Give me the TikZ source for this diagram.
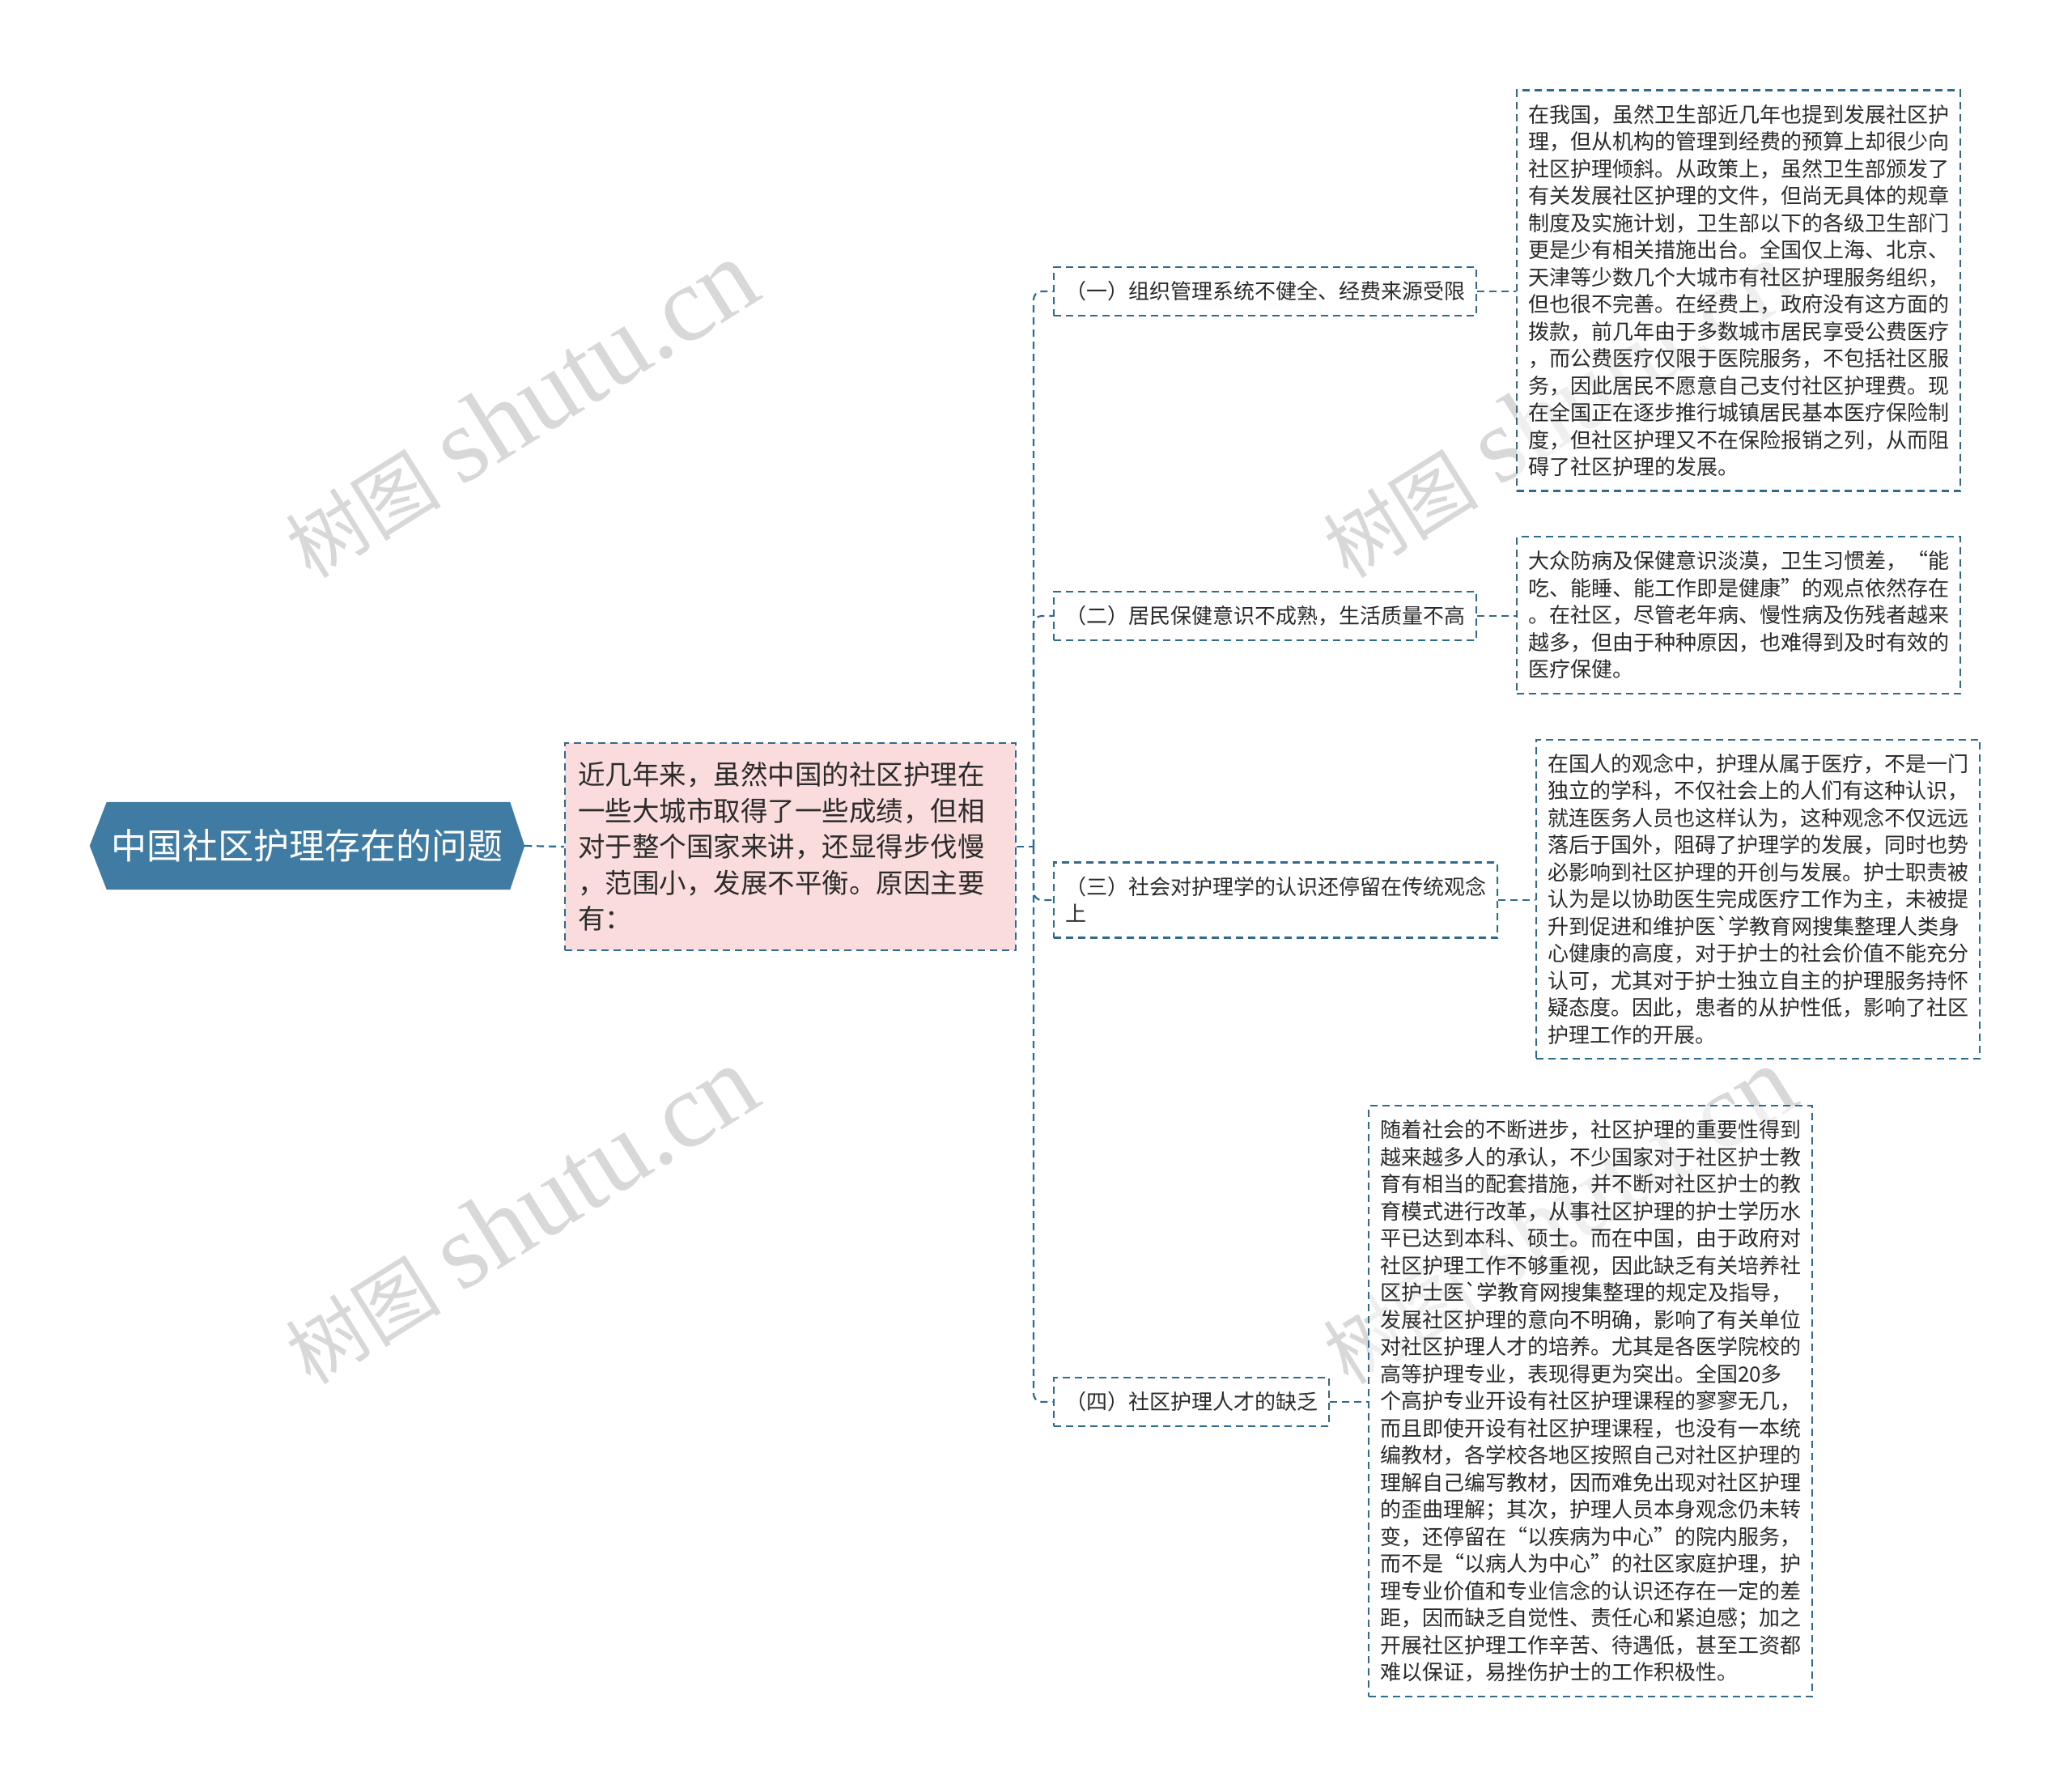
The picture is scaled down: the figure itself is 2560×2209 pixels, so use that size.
\documentclass[tikz,border=0pt]{standalone}
\usepackage{fontspec}
\setmainfont{Noto Sans CJK SC}[Ligatures=TeXOff]
\newfontfamily\wmserif{Liberation Serif}
\newfontfamily\wmcjk{Noto Sans CJK SC}
\usetikzlibrary{backgrounds}
\definecolor{rootc}{HTML}{3F7BA2}
\definecolor{pinkc}{HTML}{FBDCDC}
\definecolor{bordc}{HTML}{2F6A8F}
\definecolor{txtc}{HTML}{2B2B2B}
\definecolor{wmc}{HTML}{D8D8D8}
\newcommand\mystr{\rule[\dimexpr0.38em-0.5\baselineskip\relax]{0pt}{\baselineskip}}
\newcommand\wmtext{{\wmcjk\fontsize{96}{106}\selectfont 树图}\hspace{26pt}{\wmserif\fontsize{132}{142}\selectfont shutu.cn}}
\tikzset{
  box/.style={draw=bordc, dash pattern=on 9pt off 6pt, line width=2.2pt, fill=white,
    text=txtc, align=left, inner xsep=14pt, inner ysep=13pt,
    font=\fontsize{26}{33.5}\selectfont, anchor=west},
  leaf/.style={box, text width=520pt, fill opacity=0.6, text opacity=1},
  conn/.style={draw=bordc, dash pattern=on 9pt off 6pt, line width=2.2pt},
  wm/.style={text=wmc, rotate=32, inner sep=0pt},
}
\begin{document}
\begin{tikzpicture}[x=1pt,y=-1pt]
\useasboundingbox (0,0) rectangle (2560,2209);
% watermarks
\node[wm] (wm1) at (643,506) {\wmtext};
\node[wm] (wm2) at (643,1502) {\wmtext};
\node[wm] (wm3) at (1925,506) {\wmtext};
\node[wm] (wm4) at (1925,1502) {\wmtext};
% root
\node[text=white, font=\fontsize{44}{50}\selectfont, minimum width=537pt, minimum height=108pt, inner sep=0pt] (root) at (379.5,1045) {中国社区护理存在的问题};
\begin{pgfonlayer}{background}
\fill[white] (0,0) rectangle (2560,2209);
\fill[rootc] (root.west) -- ([xshift=21pt]root.north west) -- ([xshift=-18pt]root.north east) -- (root.east) -- ([xshift=-18pt]root.south east) -- ([xshift=21pt]root.south west) -- cycle;
\end{pgfonlayer}
% intro
\node[box, fill=pinkc, text width=525pt, inner xsep=16pt, inner ysep=16.5pt, font=\fontsize{33.5}{44.6}\selectfont] (intro) at (697,1046) {%
\mystr 近几年来，虽然中国的社区护理在\\
\mystr 一些大城市取得了一些成绩，但相\\
\mystr 对于整个国家来讲，还显得步伐慢\\
\mystr ，范围小，发展不平衡。原因主要\\
\mystr 有：};
% branches
\node[box] (b1) at (1301,360) {\mystr （一）组织管理系统不健全、经费来源受限};
\node[box] (b2) at (1301,761) {\mystr （二）居民保健意识不成熟，生活质量不高};
\node[box] (b3) at (1301,1112) {\mystr （三）社会对护理学的认识还停留在传统观念\\\mystr 上};
\node[box] (b4) at (1301,1732) {\mystr （四）社区护理人才的缺乏};
% leaves
\node[leaf] (l1) at (1873,359) {%
\mystr 在我国，虽然卫生部近几年也提到发展社区护\\
\mystr 理，但从机构的管理到经费的预算上却很少向\\
\mystr 社区护理倾斜。从政策上，虽然卫生部颁发了\\
\mystr 有关发展社区护理的文件，但尚无具体的规章\\
\mystr 制度及实施计划，卫生部以下的各级卫生部门\\
\mystr 更是少有相关措施出台。全国仅上海、北京、\\
\mystr 天津等少数几个大城市有社区护理服务组织，\\
\mystr 但也很不完善。在经费上，政府没有这方面的\\
\mystr 拨款，前几年由于多数城市居民享受公费医疗\\
\mystr ，而公费医疗仅限于医院服务，不包括社区服\\
\mystr 务，因此居民不愿意自己支付社区护理费。现\\
\mystr 在全国正在逐步推行城镇居民基本医疗保险制\\
\mystr 度，但社区护理又不在保险报销之列，从而阻\\
\mystr 碍了社区护理的发展。};
\node[leaf] (l2) at (1873,760) {%
\mystr 大众防病及保健意识淡漠，卫生习惯差，“能\\
\mystr 吃、能睡、能工作即是健康”的观点依然存在\\
\mystr 。在社区，尽管老年病、慢性病及伤残者越来\\
\mystr 越多，但由于种种原因，也难得到及时有效的\\
\mystr 医疗保健。};
\node[leaf] (l3) at (1897,1111) {%
\mystr 在国人的观念中，护理从属于医疗，不是一门\\
\mystr 独立的学科，不仅社会上的人们有这种认识，\\
\mystr 就连医务人员也这样认为，这种观念不仅远远\\
\mystr 落后于国外，阻碍了护理学的发展，同时也势\\
\mystr 必影响到社区护理的开创与发展。护士职责被\\
\mystr 认为是以协助医生完成医疗工作为主，未被提\\
\mystr 升到促进和维护医`学教育网搜集整理人类身\\
\mystr 心健康的高度，对于护士的社会价值不能充分\\
\mystr 认可，尤其对于护士独立自主的护理服务持怀\\
\mystr 疑态度。因此，患者的从护性低，影响了社区\\
\mystr 护理工作的开展。};
\node[leaf] (l4) at (1690,1731) {%
\mystr 随着社会的不断进步，社区护理的重要性得到\\
\mystr 越来越多人的承认，不少国家对于社区护士教\\
\mystr 育有相当的配套措施，并不断对社区护士的教\\
\mystr 育模式进行改革，从事社区护理的护士学历水\\
\mystr 平已达到本科、硕士。而在中国，由于政府对\\
\mystr 社区护理工作不够重视，因此缺乏有关培养社\\
\mystr 区护士医`学教育网搜集整理的规定及指导，\\
\mystr 发展社区护理的意向不明确，影响了有关单位\\
\mystr 对社区护理人才的培养。尤其是各医学院校的\\
\mystr 高等护理专业，表现得更为突出。全国20多\\
\mystr 个高护专业开设有社区护理课程的寥寥无几，\\
\mystr 而且即使开设有社区护理课程，也没有一本统\\
\mystr 编教材，各学校各地区按照自己对社区护理的\\
\mystr 理解自己编写教材，因而难免出现对社区护理\\
\mystr 的歪曲理解；其次，护理人员本身观念仍未转\\
\mystr 变，还停留在“以疾病为中心”的院内服务，\\
\mystr 而不是“以病人为中心”的社区家庭护理，护\\
\mystr 理专业价值和专业信念的认识还存在一定的差\\
\mystr 距，因而缺乏自觉性、责任心和紧迫感；加之\\
\mystr 开展社区护理工作辛苦、待遇低，甚至工资都\\
\mystr 难以保证，易挫伤护士的工作积极性。};
% connectors
\coordinate (sp) at (1277,1046);
\draw[conn] (root.east) -- (intro.west);
\draw[conn] (intro.east) -- (sp);
\draw[conn, rounded corners=10pt] (sp) |- (b1.west);
\draw[conn, rounded corners=10pt] (sp) |- (b2.west);
\draw[conn, rounded corners=10pt] (sp) |- (b3.west);
\draw[conn, rounded corners=10pt] (sp) |- (b4.west);
\draw[conn] (b1.east) -- (b1.east -| l1.west);
\draw[conn] (b2.east) -- (b2.east -| l2.west);
\draw[conn] (b3.east) -- (b3.east -| l3.west);
\draw[conn] (b4.east) -- (b4.east -| l4.west);
\end{tikzpicture}
\end{document}
